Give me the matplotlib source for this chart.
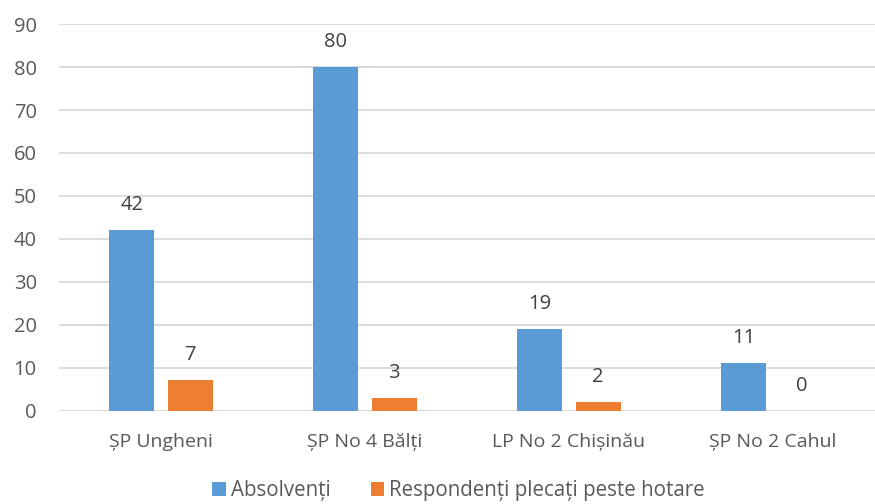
import matplotlib
matplotlib.use('Agg')
import matplotlib.pyplot as plt
import numpy as np

categories = ['ȘP Ungheni', 'ȘP No 4 Bălți', 'LP No 2 Chișinău', 'ȘP No 2 Cahul']
absolventi = [42, 80, 19, 11]
plecati = [7, 3, 2, 0]
series_names = ['Absolvenți', 'Respondenți plecați peste hotare']

plt.rcParams['font.family'] = ['Open Sans', 'DejaVu Sans']

fig = plt.figure(figsize=(8.75, 5.04), dpi=100)
ax = fig.add_axes([0.0674, 0.1855, 0.9326, 0.7665])

x = np.arange(len(categories))
w = 0.22 # bar width
off = 0.143 # half distance between bar centres
colors = ['#5B9BD5', '#ED7D31']

for vals, dx, c, name in [(absolventi, -off, colors[0], series_names[0]),
                          (plecati, off, colors[1], series_names[1])]:
    bars = ax.bar(x + dx, vals, width=w, color=c, label=name, zorder=3)
    for b, v in zip(bars, vals):
        ax.annotate(str(v), (b.get_x() + b.get_width()/2, v), xytext=(0, 18),
                    textcoords='offset points', ha='center', va='center',
                    fontsize=14.5, color='#404040')

ax.set_xlim(-0.5, 3.5)
ax.set_ylim(0, 90)
ax.set_yticks(range(0, 91, 10))
ax.yaxis.grid(True, color='#D9D9D9', linewidth=1.3, zorder=0)
ax.set_axisbelow(True)
for s in ['top', 'right', 'left', 'bottom']:
    ax.spines[s].set_visible(False)
ax.tick_params(axis='both', length=0, labelcolor='#595959')
ax.tick_params(axis='y', pad=16, labelsize=14.5)
ax.tick_params(axis='x', pad=16.5, labelsize=14)
ax.set_xticks(x)
ax.set_xticklabels(categories)

leg = fig.legend(loc='center', bbox_to_anchor=(0.524, 0.026), ncol=2, frameon=False,
                 fontsize=14.8, handlelength=0.66, handleheight=0.66, handletextpad=0.25,
                 columnspacing=1.95, labelcolor='#595959', borderpad=0.1)

fig.savefig('out.png', dpi=100)
